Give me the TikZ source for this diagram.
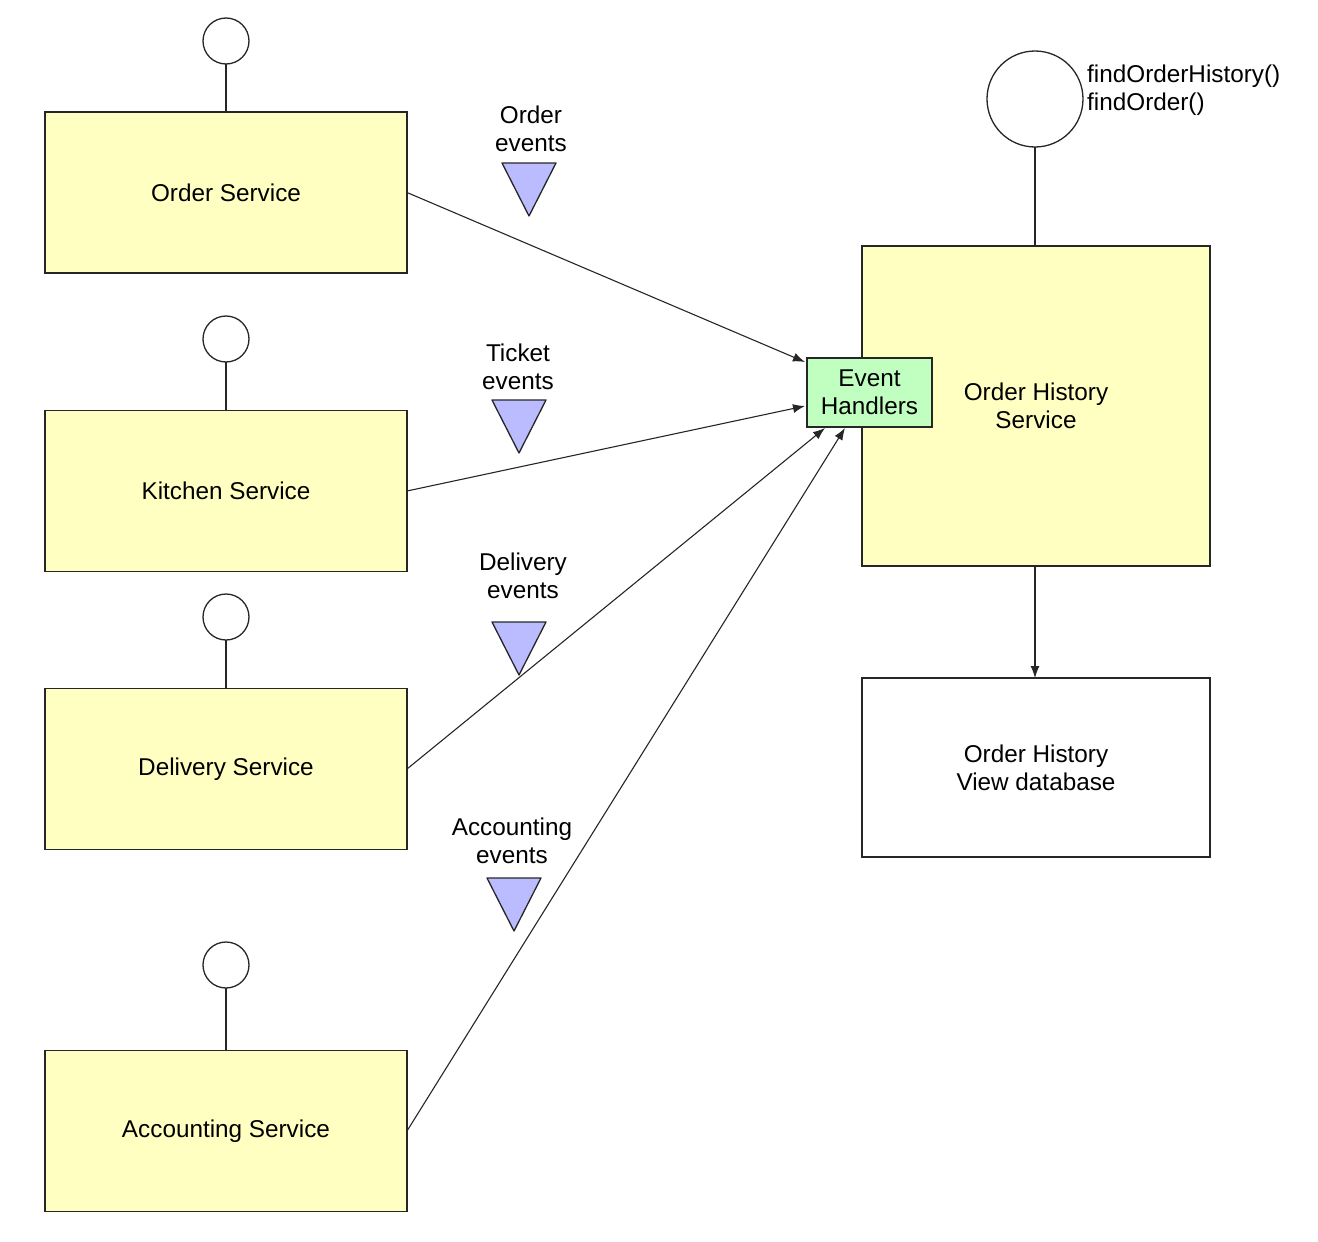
\documentclass[tikz,border=0pt]{standalone}
\usepackage{fontspec}
\setmainfont{Liberation Sans}
\usetikzlibrary{arrows.meta,calc}
\begin{document}
\begin{tikzpicture}[x=1pt,y=-1pt,
  every node/.style={font=\fontsize{24.3}{28}\selectfont},
  svc/.style={draw=black!85,line width=1.3pt,fill=yellowbox,minimum width=362pt,minimum height=161pt,inner sep=0pt,outer sep=0pt,align=center},
  port/.style={draw=black!85,line width=1.3pt,fill=white,circle,minimum size=46pt,inner sep=0pt,outer sep=0pt},
  conn/.style={draw=black!85,line width=1.2pt},
  flow/.style={draw=black!85,line width=1.1pt,-{Latex[length=12pt,width=9pt]}},
  evtri/.style={draw=black!85,line width=1.3pt,fill=eventblue,line join=round},
  lbl/.style={align=center,inner sep=0pt}
]
\definecolor{yellowbox}{HTML}{FFFFC2}
\definecolor{eventblue}{HTML}{BBBBFF}
\definecolor{greenbox}{HTML}{C0FFC0}
\useasboundingbox (0,0) rectangle (1318,1242);

% services
\node[svc] (os) at (226,192.5) {Order Service};
\node[svc] (ks) at (226,491) {Kitchen Service};
\node[svc] (ds) at (226,769) {Delivery Service};
\node[svc] (as) at (226,1131) {Accounting Service};

\node[port] (osp) at (226,41) {};
\node[port] (ksp) at (226,339) {};
\node[port] (dsp) at (226,617) {};
\node[port] (asp) at (226,965) {};

\draw[conn] (osp.south) -- (os.north);
\draw[conn] (ksp.south) -- (ks.north);
\draw[conn] (dsp.south) -- (ds.north);
\draw[conn] (asp.south) -- (as.north);

% order history service
\node[draw=black!85,line width=1.3pt,fill=yellowbox,minimum width=348pt,minimum height=320pt,inner sep=0pt,outer sep=0pt] (ohs) at (1036,406) {};
\node[lbl] (ohstext) at (1036,406) {Order History\\Service};
\node[port,minimum size=96pt] (ohsp) at (1035,99) {};
\draw[conn] (ohsp.south) -- (ohs.north -| ohsp.south);
\node[lbl,align=left,anchor=north west] (api) at (1087,65) {findOrderHistory()\\findOrder()};

% event handlers
\node[draw=black!85,line width=1.3pt,fill=greenbox,minimum width=125pt,minimum height=69pt,inner sep=0pt,outer sep=0pt,align=center] (eh) at (869.5,392.5) {Event\\Handlers};

% database
\node[draw=black!85,line width=1.3pt,fill=white,minimum width=348pt,minimum height=179pt,inner sep=0pt,outer sep=0pt,align=center] (db) at (1036,767.5) {Order History\\View database};
\draw[flow] (ohs.south -| 1035,0) -- (db.north -| 1035,0);

% arrow end points
\coordinate (e1) at ($(eh.north west)+(-2,4)$);
\coordinate (e2) at ($(eh.west)+(-2,13.5)$);
\coordinate (e3) at ($(eh.south west)+(18,1)$);
\coordinate (e4) at ($(eh.south west)+(38,1)$);

\draw[flow] (os.east) -- (e1);
\draw[flow] (ks.east) -- (e2);
\draw[flow] (ds.east) -- (e3);
\draw[flow] (as.east) -- (e4);

% event channels
\draw[evtri] (502,163) -- (556,163) -- (529,216) -- cycle;
\draw[evtri] (492,400) -- (546,400) -- (519,453) -- cycle;
\draw[evtri] (492,622) -- (546,622) -- (519,675) -- cycle;
\draw[evtri] (487,878) -- (541,878) -- (514,931) -- cycle;

\node[lbl] (l1) at (531,129) {Order\\events};
\node[lbl] (l2) at (518,367) {Ticket\\events};
\node[lbl] (l3) at (523,576) {Delivery\\events};
\node[lbl] (l4) at (512,841) {Accounting\\events};
\end{tikzpicture}
\end{document}
